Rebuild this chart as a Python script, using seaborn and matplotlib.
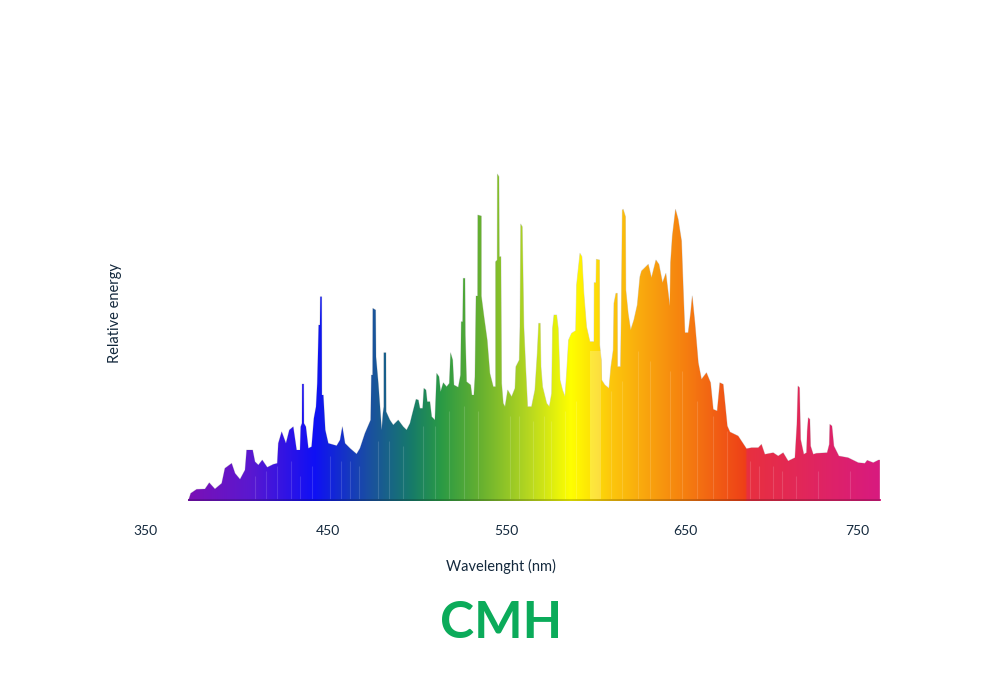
import numpy as np
import seaborn as sns
import matplotlib.pyplot as plt
from matplotlib.colors import LinearSegmentedColormap
from matplotlib.patches import Polygon

sns.set_theme(style="white")
plt.rcParams['font.family'] = ['Lato', 'DejaVu Sans']

# spectrum outline
wavelength = [374.3, 375.7, 379.0, 383.7, 386.1, 389.3, 393.1, 394.9, 398.7, 400.6, 403.4, 406.2, 407.1, 410.5, 411.8,
              413.7, 415.9, 418.7, 422.1, 424.3, 424.9, 426.8, 429.2, 431.1, 433.3, 435.2, 437.1, 437.5, 438.2, 438.3,
              439.2, 439.3, 440.4, 441.8, 443.6, 444.9, 446.1, 446.8, 447.6, 448.3, 448.5, 449.3, 449.4, 450.2, 451.3,
              453.0, 457.7, 459.6, 460.9, 462.4, 465.2, 468.9, 470.8, 473.6, 476.8, 477.2, 477.9, 478.0, 479.6, 479.8,
              481.1, 483.0, 483.7, 484.2, 484.2, 485.4, 485.5, 487.6, 489.5, 492.3, 495.1, 497.0, 498.9, 499.8, 502.3,
              503.6, 504.5, 506.0, 506.7, 507.9, 508.6, 510.1, 511.1, 512.9, 513.9, 515.2, 516.1, 517.6, 519.5, 521.0,
              521.7, 522.9, 523.6, 526.0, 527.3, 527.7, 528.5, 528.8, 529.8, 530.0, 530.7, 533.0, 533.7, 534.8, 535.4,
              536.0, 536.9, 537.0, 539.0, 539.0, 540.5, 542.3, 543.8, 545.7, 547.0, 547.0, 547.9, 548.0, 548.9, 549.1,
              550.0, 550.4, 551.3, 552.3, 553.8, 556.0, 557.9, 558.4, 560.3, 560.7, 561.1, 562.0, 562.2, 562.9, 563.9,
              565.0, 567.2, 569.1, 570.4, 571.2, 572.1, 572.5, 573.4, 575.7, 577.2, 578.5, 579.0, 579.8, 581.3, 582.2,
              583.2, 584.6, 586.0, 586.9, 588.0, 589.7, 592.0, 592.5, 594.4, 595.5, 596.6, 598.1, 600.0, 602.3, 602.4,
              603.4, 603.6, 605.4, 605.5, 606.4, 606.6, 608.4, 610.7, 611.8, 613.1, 613.5, 614.6, 615.4, 615.5, 617.2,
              617.6, 618.2, 618.7, 620.0, 620.2, 621.5, 622.9, 624.7, 626.6, 628.1, 629.0, 632.8, 634.6, 637.1, 638.8,
              640.8, 642.7, 644.9, 645.3, 646.3, 648.1, 649.6, 651.5, 652.4, 653.4, 655.2, 656.6, 657.5, 659.0, 660.9,
              662.7, 665.5, 667.8, 669.3, 671.5, 673.0, 674.9, 677.2, 678.7, 683.3, 688.0, 690.8, 694.6, 696.4, 698.3,
              703.0, 705.8, 708.6, 711.4, 715.2, 716.3, 716.9, 717.8, 718.4, 720.2, 721.7, 722.1, 722.7, 723.6, 724.0,
              725.5, 727.3, 733.3, 734.5, 734.8, 736.0, 737.1, 739.9, 745.1, 750.8, 754.5, 755.8, 759.2, 762.2, 762.9,
              762.9]
energy = [0, 7.7, 11.7, 12, 18.3, 12, 17.7, 32.7, 37.7, 27.7, 21.7, 31, 51, 51, 39.3,
          36, 41, 33.7, 36.7, 37.7, 57.7, 69.3, 57.7, 71, 74.3, 51, 51, 74.3, 77.7, 117,
          117, 77.7, 74.3, 52.7, 54.3, 82.7, 94.3, 117.7, 176, 176, 204.3, 204.3, 106, 106, 71,
          57.7, 55.3, 61, 74.3, 57.7, 52.7, 47, 52.7, 67.7, 81, 126, 126, 192.7, 191, 144.3,
          117.7, 71, 87.7, 94.3, 148.3, 148.3, 89.3, 81, 76, 81, 74.3, 71, 77.7, 84.3, 101.7,
          101, 92.7, 92.7, 112.7, 111, 99.3, 99.3, 84.3, 81, 127.7, 124.3, 109.3, 118.3, 114.3, 117.7,
          148.3, 141, 116, 113.7, 126, 179.3, 179.3, 222.7, 222.7, 166, 119.3, 116, 106, 106, 124.3,
          205, 205, 286, 285, 205, 184.3, 161, 127.7, 114.3, 114.3, 239.3, 241, 327, 324.3, 244.3,
          244.3, 117.7, 97.7, 94.3, 111, 104.3, 112.7, 134.3, 141, 174.3, 277, 274.3, 252.7, 174.3, 134.3,
          94.3, 94.3, 111, 147.7, 177.7, 177.7, 134.3, 114.3, 97.7, 94.3, 107.7, 172.7, 186, 186, 172.7,
          121, 111, 104.3, 127.7, 161, 167.7, 170.3, 216, 247.7, 244.3, 207.7, 174.3, 159.3, 159.3, 218.3,
          218.3, 241.7, 241, 156, 141, 121, 116, 112.7, 134.3, 151, 197.7, 207.7, 207.7, 134.3, 134.3,
          184.3, 291, 291.7, 284.3, 211, 187.7, 171, 181, 196, 224.3, 230, 236.7, 223.3, 241, 236.7,
          218.3, 227.7, 195, 238.3, 265, 291.7, 281.7, 260, 215, 168.3, 168.3, 188.3, 205, 178.3, 138.3,
          121.7, 128.3, 118.3, 91.7, 90, 118.3, 116.7, 75, 69, 65, 52.3, 53.3, 53.3, 56.7, 46.7,
          48.3, 45, 48.3, 40, 43.3, 76.7, 115, 113.3, 61.7, 46.7, 48.3, 70, 83.3, 81.7, 55,
          46.7, 47.7, 48.3, 56.7, 76.7, 75, 55, 45, 43.3, 38.3, 37.7, 40.7, 38.3, 41, 41,
          0]

# colour along the spectrum
color_waves = [374, 409, 445, 476, 499, 516, 538, 566, 589, 611, 650, 687, 688, 763]
color_hexes = ['#7b10b5', '#5a18d0', '#0f10f5', '#1a50a0', '#167a6a', '#2a9a45', '#66b030',
               '#b8d820', '#ffff00', '#fcc80c', '#f6850f', '#ee3f18', '#e8303f', '#d81a80']

# pale vertical streaks in the fill
streak_waves = [412, 418, 424, 432, 437, 444, 454, 460, 465, 470, 481, 487, 495, 506, 513, 521, 529, 537, 555, 560,
                568, 574, 578, 586, 592, 612, 618, 627, 634, 645, 652, 660, 669, 677, 690, 695, 703, 708, 716, 728, 746]
streak_tops = [25, 30, 35, 40, 25, 35, 45, 40, 40, 35, 60, 60, 55, 75, 75, 90, 95, 90, 85, 85,
               80, 85, 80, 90, 100, 110, 120, 150, 140, 130, 130, 100, 85, 70, 40, 35, 35, 30, 25, 30, 30]
tick_values = [350, 452.8, 552.8, 653.4, 750]
tick_labels = ['350', '450', '550', '650', '750']

fig = plt.figure(figsize=(10.01, 7), dpi=100)
ax = fig.add_axes([145 / 1001, 199 / 700, 735 / 1001, 400 / 700])

sns.lineplot(x=wavelength, y=energy, ax=ax, linewidth=0.6, color='#b0b0b0', alpha=0.5, estimator=None, sort=False)

pos = [(w - color_waves[0]) / (color_waves[-1] - color_waves[0]) for w in color_waves]
cmap = LinearSegmentedColormap.from_list('spectrum', list(zip(pos, color_hexes)), N=1024)
grad = np.linspace(0, 1, 1024).reshape(1, -1)

img = ax.imshow(grad, cmap=cmap, aspect='auto', extent=[color_waves[0], color_waves[-1], 0, 400], zorder=2)
outline = Polygon(np.column_stack([wavelength, energy]), closed=True, transform=ax.transData, fc='none', ec='none')
ax.add_patch(outline)
img.set_clip_path(outline)

ax.vlines(streak_waves, 0, streak_tops, color='white', alpha=0.14, linewidth=0.8, zorder=3)
# paler band next to the yellow
ax.fill_between([600.3, 606], 0, 150, color='white', alpha=0.22, linewidth=0, zorder=3)
# thin dark line along the bottom
ax.imshow(grad, cmap=cmap, aspect='auto', extent=[color_waves[0], color_waves[-1], 0, 1.5], zorder=4, alpha=0.9)
ax.fill_between([color_waves[0], color_waves[-1]], 0, 1.5, color='black', alpha=0.18, linewidth=0, zorder=5)

ax.set_xlim(350, 763)
ax.set_ylim(0, 400)
ax.set_yticks([])
ax.set_xticks(tick_values)
ax.set_xticklabels(tick_labels)
ax.tick_params(axis='x', length=0, pad=17, labelsize=10, labelcolor='#14293d')
ax.set_xlabel('Wavelenght (nm)', fontsize=10.5, color='#14293d')
ax.set_ylabel('Relative energy', fontsize=10.5, color='#14293d')
ax.xaxis.set_label_coords(356 / 735, -65 / 400)
ax.yaxis.set_label_coords(-30 / 735, 187.5 / 400)
ax.xaxis.label.set_verticalalignment('center')
ax.yaxis.label.set_verticalalignment('center')
sns.despine(ax=ax, left=True, bottom=True)

fig.text(501 / 1001, 1 - 624 / 700, 'CMH', fontsize=37, fontweight='bold', color='#0bab5a', ha='center', va='center')

fig.savefig('out.png', dpi=100)
